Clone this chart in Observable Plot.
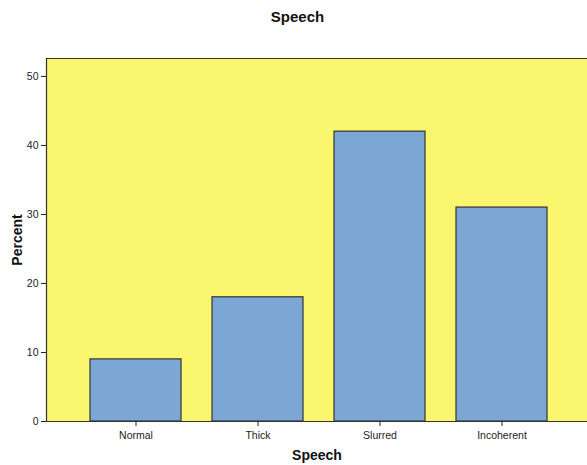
<!DOCTYPE html>
<html>
<head>
<meta charset="utf-8">
<script src="https://cdn.jsdelivr.net/npm/d3@7"></script>
<script src="https://cdn.jsdelivr.net/npm/@observablehq/plot@0.6"></script>
<style>
  html, body { margin: 0; padding: 0; background: #fff; overflow: hidden; }
  #title { height: 30px; padding-top: 8px; line-height: 16px; text-align: center; padding-left: 8px; box-sizing: border-box; width: 587px;
           font: bold 15px "Liberation Sans", Arial, sans-serif; color: #111; }
  svg { overflow: hidden; }
</style>
</head>
<body>
<div id="title">Speech</div>
<div id="chart"></div>
<script>
const categories = ["Normal", "Thick", "Slurred", "Incoherent"];
const percents = [9, 18, 42, 31];
const yTicks = [0, 10, 20, 30, 40, 50];

const data = categories.map((c, i) => ({category: c, percent: percents[i]}));

const chart = Plot.plot({
  width: 587,
  height: 435,
  marginTop: 28,
  marginBottom: 44,
  marginLeft: 46,
  marginRight: 0,
  style: {fontFamily: "'Liberation Sans', Arial, sans-serif", fontSize: "10.5px", color: "#222", background: "#fff"},
  x: {domain: categories, range: [46, 591], paddingInner: 0.253, paddingOuter: 0.351, align: 0.5},
  y: {domain: [0, 52.6]},
  marks: [
    Plot.frame({fill: "#FAF66E", stroke: "none"}),
    Plot.frame({anchor: "top", stroke: "#333", strokeWidth: 1.2}),
    Plot.frame({anchor: "left", stroke: "#333", strokeWidth: 1.2}),
    Plot.barY(data, {x: "category", y: "percent", fill: "#7CA7D4", stroke: "#333", strokeWidth: 1.2}),
    Plot.frame({anchor: "bottom", stroke: "#333", strokeWidth: 1.2}),
    Plot.axisY({ticks: yTicks, tickSize: 5, tickPadding: 3, label: "Percent", labelAnchor: "center", labelArrow: "none",
                labelOffset: 34, fontSize: 10.5}),
    Plot.axisX({tickSize: 5, tickPadding: 5, label: "Speech", labelAnchor: "center", labelArrow: "none",
                labelOffset: 38, fontSize: 10.5}),
  ]
});

chart.querySelectorAll("g[aria-label='y-axis label'] text, g[aria-label='x-axis label'] text").forEach(t => {
  t.setAttribute("font-weight", "bold");
  t.setAttribute("font-size", "14px");
  t.setAttribute("fill", "#111");
});
document.getElementById("chart").appendChild(chart);
</script>
</body>
</html>
